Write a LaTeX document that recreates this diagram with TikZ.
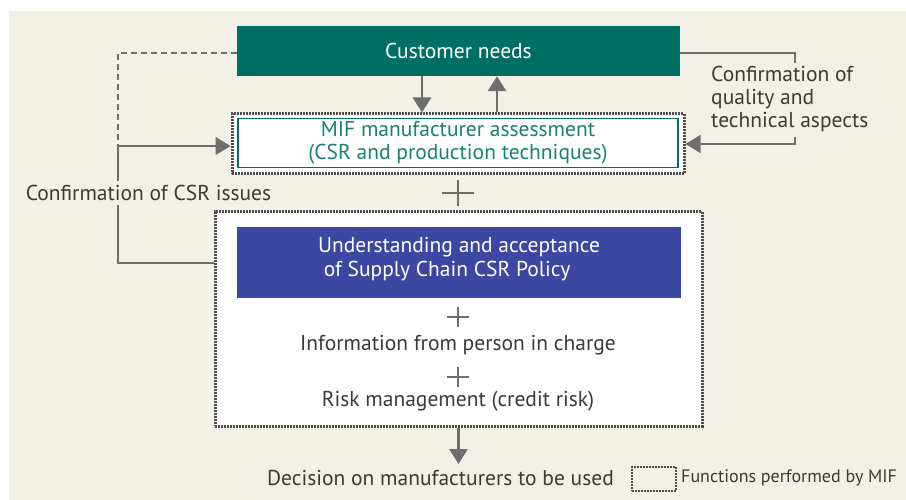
\documentclass[tikz,border=0pt]{standalone}
\usepackage{fontspec}
\setmainfont{PT Sans}
\usepackage{xcolor}
\usetikzlibrary{positioning}
\usetikzlibrary{arrows.meta}
\definecolor{cream}{HTML}{F3F0E8}
\definecolor{mifteal}{HTML}{006F63}
\definecolor{miftext}{HTML}{1B8074}
\definecolor{mifblue}{HTML}{3B47A0}
\definecolor{linegray}{HTML}{6E6E6E}
\definecolor{dotgray}{HTML}{4E4E4E}
\definecolor{textgray}{HTML}{3A3A3A}
\tikzset{mifbox/.style={inner sep=0pt, align=center, font=\fontsize{21.5}{23}\selectfont},
mifdots/.style={draw=dotgray, line width=3pt, dash pattern=on 1.6pt off 1.4pt},
conn/.style={draw=linegray, line width=1.3pt},
fat/.style={draw=linegray, line width=2.8pt},
bighead/.style={-{Triangle[length=15pt,width=18pt]}}}

\begin{document}
\begin{tikzpicture}[x=1pt, y=-1pt, every node/.style={text=textgray},
	lbl/.style={inner sep=1pt, font=\fontsize{21.5}{23}\selectfont}]

	\useasboundingbox (0,0) rectangle (906,500);
	\fill[cream] (9,11) rectangle (906,500);

	% boxes
	\node[mifbox, fill=mifteal, text=white, minimum width=443pt, minimum height=50pt] (cust) at (458.5,51) {Customer needs};
	\node[mifdots, fill=white, minimum width=452pt, minimum height=60pt] (assessout) at (458,144) {};
	\node[mifbox, draw=mifteal, line width=1.4pt, text=miftext, minimum width=440pt, minimum height=49pt] (assess) at (458,143)
		{MIF manufacturer assessment\\(CSR and production techniques)};
	\node[mifdots, fill=white, minimum width=487pt, minimum height=214pt] (bigbox) at (458.5,319) {};
	\node[mifbox, fill=mifblue, minimum width=444pt, minimum height=71pt] (policy) at (459,262.5) {};
	\node[mifbox, text=white, align=left] (policytxt) at (459,259.5) {Understanding and acceptance\\[1pt] \ of Supply Chain CSR Policy};
	\node[lbl] (info) at (458,345) {Information from person in charge};
	\node[lbl] (risk) at (458,401) {Risk management (credit risk)};
	\node[lbl] (decision) at (440.5,478) {Decision on manufacturers to be used};
	\node[mifdots, line width=2.4pt, minimum width=44pt, minimum height=24pt] (legend) at (654,479) {};
	\node[lbl, anchor=west, inner sep=0pt, font=\fontsize{18}{21}\selectfont] (legendtxt) at (681,478) {Functions performed by MIF};

	% left side
	\coordinate (csrtop) at (118,146);
	\coordinate (csrbot) at (118,263);
	\draw[conn, dash pattern=on 6pt off 4pt, line width=1.1pt] (cust.west |- 0,53) -| (csrtop);
	\draw[conn, bighead] (csrtop) -- (csrtop -| assessout.west);
	\draw[conn] (csrtop) -- (csrbot) -- (csrbot -| bigbox.west);
	\node[lbl, fill=cream, inner ysep=4pt] (csr) at (148.5,193) {Confirmation of CSR issues};

	% right side
	\coordinate (qtop) at (795,63);
	\coordinate (qbot) at (795,137);
	\draw[conn] (cust.east |- 0,53) -| (qtop);
	\draw[conn, bighead] (qbot) |- (assessout.east);
	\node[lbl, anchor=west, align=left] (quality) at (710,99) {Confirmation of\\quality and\\technical aspects};

	% arrows between the boxes
	\draw[fat, bighead] (cust.south -| 422,0) -- (assessout.north -| 422,0);
	\draw[fat, bighead] (assessout.north -| 497,0) -- (cust.south -| 497,0);
	\coordinate (dectop) at (458.5,464);
	\draw[fat, bighead] (bigbox.south) -- (dectop);

	% plus signs
	\coordinate (plusa) at (458,193);
	\coordinate (plusb) at (458,317);
	\coordinate (plusc) at (458,377);
	\draw[draw=linegray, line width=2.2pt] (plusa) ++(-16,0) -- ++(32,0) (plusa) ++(0,-13) -- ++(0,26);
	\foreach \p in {plusb,plusc}
		\draw[draw=linegray, line width=1.4pt] (\p) ++(-11,0) -- ++(22,0) (\p) ++(0,-10) -- ++(0,20);
\end{tikzpicture}
\end{document}
